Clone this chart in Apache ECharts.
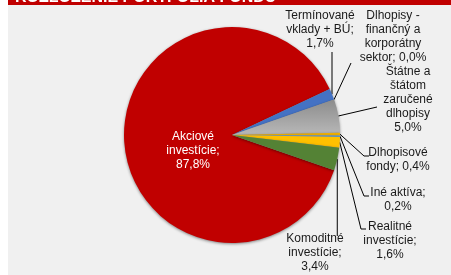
<!DOCTYPE html>
<html>
<head>
<meta charset="utf-8">
<script src="https://cdn.jsdelivr.net/npm/echarts@6/dist/echarts.min.js"></script>
<style>
  html, body { margin: 0; padding: 0; background: #fff; }
  #main { width: 451px; height: 275px; }
</style>
</head>
<body>
<div id="main"></div>
<script>
// kategorie portfolia (v poradí v smere hodinových ručičiek)
var categories = ['Akciové investície', 'Termínované vklady + BÚ', 'Dlhopisy - finančný a korporátny sektor',
  'Štátne a štátom zaručené dlhopisy', 'Dlhopisové fondy', 'Iné aktíva', 'Realitné investície', 'Komoditné investície'];
var values = [87.8, 1.7, 0.0, 5.0, 0.4, 0.2, 1.6, 3.4];
// zalomenie textu popisiek ako v originale
var labelText = ['Akciové\ninvestície;\n', 'Termínované\nvklady + BÚ;\n', 'Dlhopisy -\nfinančný a\nkorporátny\nsektor; ',
  'Štátne a\nštátom\nzaručené\ndlhopisy\n', 'Dlhopisové\nfondy; ', 'Iné aktíva;\n', 'Realitné\ninvestície;\n', 'Komoditné\ninvestície;\n'];
var colors = ['#c00000', '#4472c4', '#ed7d31',
  new echarts.graphic.LinearGradient(0, 0, 0, 1, [{offset: 0, color: '#8c8c8c'}, {offset: 1, color: '#b8b8b8'}]),
  '#f0b000', '#5b9bd5', '#ffc000', '#548235'];

// umiestnenie popiskov (stred bloku textu) a zlomy vodiacich čiar
var labelPos = [[193, 151], [320, 30], [393, 37], [408, 100], [398, 160], [398, 200], [390, 241], [315, 253]];
var linePts = [null, [[null, 52]], [[351, 63]], [[377, 107]], [[364, 156], [369, 156]],
  [[364, 196], [369, 196]], [[361, 229], [366, 229]], [[null, 236]]];

var chart = echarts.init(document.getElementById('main'));

var data = categories.map(function (name, i) {
  var item = {name: name, value: values[i], itemStyle: {color: colors[i]}};
  if (i === 0) {
    item.label = {position: 'inside', color: '#fff'};
    item.labelLine = {show: false};
  }
  return item;
});

chart.setOption({
  animation: false,
  graphic: [
    {type: 'rect', shape: {x: 8, y: 0, width: 443, height: 275}, style: {fill: '#f0f0f0'}, z: -10},
    {type: 'rect', shape: {x: 8, y: 0, width: 443, height: 5}, style: {fill: '#c00000'}, z: -9},
    {type: 'text', x: 15, y: -2, z: -8,
      style: {text: 'ROZLOŽENIE PORTFÓLIA FONDU', fill: '#fff', font: 'bold 16px "Liberation Sans", Arial', verticalAlign: 'middle'}}
  ],
  series: [{
    type: 'pie',
    center: [232, 135],
    radius: 108,
    startAngle: -19,
    clockwise: true,
    avoidLabelOverlap: false,
    data: data,
    itemStyle: {
      borderWidth: 0,
      shadowBlur: 3,
      shadowOffsetY: 1,
      shadowColor: 'rgba(0,0,0,0.45)'
    },
    label: {
      show: true,
      position: 'outside',
      color: '#1a1a1a',
      fontFamily: '"Liberation Sans", Arial',
      fontSize: 12,
      lineHeight: 14,
      align: 'center',
      formatter: function (p) {
        return labelText[p.dataIndex] + p.value.toFixed(1).replace('.', ',') + '%';
      }
    },
    labelLine: {
      show: true,
      length: 10,
      length2: 10,
      lineStyle: {color: '#000', width: 1}
    },
    labelLayout: function (params) {
      var i = params.dataIndex;
      var out = {x: labelPos[i][0], y: labelPos[i][1], align: 'center', verticalAlign: 'middle'};
      var pts = params.labelLinePoints;
      if (i > 0 && pts && pts.length) {
        var a = pts[0];
        var list = [[a[0], a[1]]];
        linePts[i].forEach(function (p) {
          list.push([p[0] == null ? a[0] : p[0], p[1]]);
        });
        if (list.length === 2) list.push(list[1].slice());
        out.labelLinePoints = list;
      }
      return out;
    }
  }]
});
</script>
</body>
</html>
